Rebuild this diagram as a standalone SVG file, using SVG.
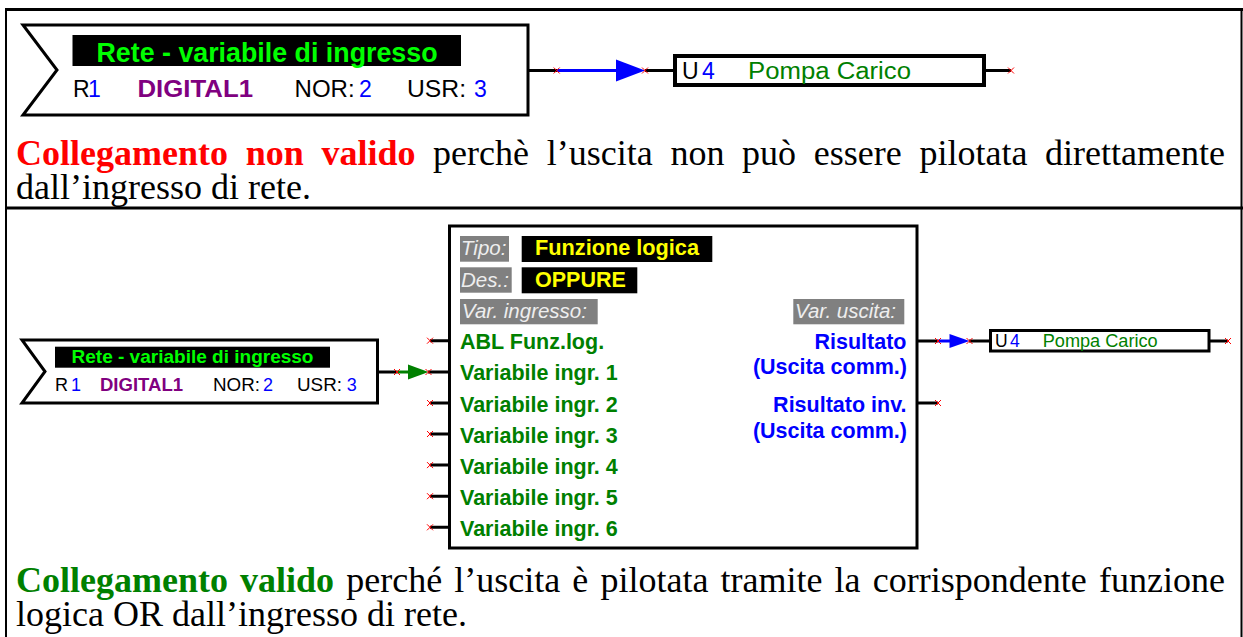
<svg xmlns="http://www.w3.org/2000/svg" xmlns:xlink="http://www.w3.org/1999/xlink" width="1243" height="637" viewBox="0 0 1243 637">
<style>
.ar{font-family:"Liberation Sans",Arial,sans-serif}
.tn{font-family:"Liberation Serif","Times New Roman",serif;font-size:36px;fill:#000}
.b{font-weight:bold}
.it{font-style:italic;fill:#eeeeee;font-size:20.5px}
.g{fill:#008000}
.lg{fill:#00ff00}
.bl{fill:#0000ff}
.pu{fill:#800080}
.ye{fill:#ffff00}
.red{fill:#ff0000}
.ln{stroke:#000;stroke-width:3;fill:none}
.box{fill:#fff;stroke:#000;stroke-width:3}
.gray{fill:#808080}
.fl{font-size:21.5px;font-weight:bold}
</style>
<defs>
<g id="xm"><path d="M-3,-3 L3,3 M-3,3 L3,-3" stroke="#ff0000" stroke-width="1" fill="none"/></g>
</defs>
<rect x="0" y="0" width="1243" height="637" fill="#fff"/>
<g id="frame" fill="none" stroke="#000">
<path d="M5,9.5 H1243" stroke-width="3"/>
<path d="M6,8 V637" stroke-width="2"/>
<path d="M1241.5,8 V637" stroke-width="2"/>
<path d="M5,208 H1243" stroke-width="3"/>
</g>

<g id="net-input-top">
<polygon points="23,25 528,25 528,115 23,115 57,70" class="box"/>
<rect x="72.5" y="35" width="388.5" height="31" fill="#000"/>
<text class="ar b lg" x="267" y="62" font-size="27" text-anchor="middle" textLength="341" lengthAdjust="spacingAndGlyphs">Rete - variabile di ingresso</text>
<text class="ar" y="97" font-size="23">
<tspan x="73">R</tspan><tspan x="88" class="bl">1</tspan>
<tspan x="137.5" class="b pu" textLength="115.5" lengthAdjust="spacingAndGlyphs">DIGITAL1</tspan>
<tspan x="294.6" textLength="60" lengthAdjust="spacingAndGlyphs">NOR:</tspan><tspan x="359" class="bl">2</tspan>
<tspan x="407" textLength="59" lengthAdjust="spacingAndGlyphs">USR:</tspan><tspan x="474" class="bl">3</tspan>
</text>
</g>

<g id="output-top">
<rect x="675" y="56" width="309" height="29" fill="#fff" stroke="#000" stroke-width="4"/>
<text class="ar" y="79" font-size="23"><tspan x="682">U</tspan><tspan x="702" class="bl">4</tspan><tspan x="748" class="g" textLength="163" lengthAdjust="spacingAndGlyphs">Pompa Carico</tspan></text>
<path d="M986,70.5 H1011" class="ln"/>
<use xlink:href="#xm" x="1011" y="70.5"/>
</g>

<g id="text-top">
<text class="tn" y="165">
<tspan x="16" class="b red">Collegamento</tspan><tspan x="245.7" class="b red">non</tspan><tspan x="321.4" class="b red">valido</tspan><tspan x="433.1">perchè</tspan><tspan x="546.7">l’uscita</tspan><tspan x="670.4">non</tspan><tspan x="742.1">può</tspan><tspan x="813.8">essere</tspan><tspan x="919.4">pilotata</tspan>
</text>
<text class="tn" x="1225" y="165" text-anchor="end">direttamente</text>
<text class="tn" x="16" y="199">dall’ingresso di rete.</text>
</g>

<g id="net-input-bottom">
<polygon points="22,340 377.5,340 377.5,403 22,403 45,371.5" class="box"/>
<rect x="55" y="346.7" width="275" height="21" fill="#000"/>
<text class="ar b lg" x="192.5" y="363.3" font-size="18.5" text-anchor="middle" textLength="242" lengthAdjust="spacingAndGlyphs">Rete - variabile di ingresso</text>
<text class="ar" y="391" font-size="18">
<tspan x="55">R</tspan><tspan x="71" class="bl">1</tspan>
<tspan x="100" class="b pu" textLength="83" lengthAdjust="spacingAndGlyphs">DIGITAL1</tspan>
<tspan x="213" textLength="47" lengthAdjust="spacingAndGlyphs">NOR:</tspan><tspan x="263" class="bl">2</tspan>
<tspan x="297" textLength="45" lengthAdjust="spacingAndGlyphs">USR:</tspan><tspan x="346.7" class="bl">3</tspan>
</text>
</g>

<g id="logic-function">
<rect x="449.5" y="226" width="467.5" height="322" class="box"/>
<rect x="460" y="236" width="49" height="25.7" class="gray"/>
<text class="ar it" x="461" y="255">Tipo:</text>
<rect x="521.7" y="236" width="190.6" height="26" fill="#000"/>
<text class="ar fl ye" x="535" y="255" textLength="164" lengthAdjust="spacingAndGlyphs">Funzione logica</text>
<rect x="460" y="267.3" width="51.7" height="25.4" class="gray"/>
<text class="ar it" x="461" y="286.5">Des.:</text>
<rect x="521.7" y="267.3" width="115.6" height="26" fill="#000"/>
<text class="ar fl ye" x="535" y="286.5">OPPURE</text>
<rect x="460" y="299" width="137.7" height="25.3" class="gray"/>
<text class="ar it" x="462" y="318">Var. ingresso:</text>
<rect x="793.3" y="299" width="111" height="25.3" class="gray"/>
<text class="ar it" x="795" y="318">Var. uscita:</text>
<g class="ar fl g">
<text x="460" y="349.3">ABL Funz.log.</text>
<text x="460" y="380.4">Variabile ingr. 1</text>
<text x="460" y="411.5">Variabile ingr. 2</text>
<text x="460" y="442.6">Variabile ingr. 3</text>
<text x="460" y="473.7">Variabile ingr. 4</text>
<text x="460" y="504.8">Variabile ingr. 5</text>
<text x="460" y="535.9">Variabile ingr. 6</text>
</g>
<g class="ar fl bl" text-anchor="end">
<text x="906.5" y="349.3">Risultato</text>
<text x="907" y="374">(Uscita comm.)</text>
<text x="906.5" y="412.3">Risultato inv.</text>
<text x="907" y="438.3">(Uscita comm.)</text>
</g>
<path d="M430,340.7 H449 M430,403 H449 M430,434 H449 M430,465.1 H449 M430,496.2 H449 M430,527.3 H449" class="ln"/>
<use xlink:href="#xm" x="430" y="340.7"/>
<use xlink:href="#xm" x="430" y="403"/>
<use xlink:href="#xm" x="430" y="434"/>
<use xlink:href="#xm" x="430" y="465.1"/>
<use xlink:href="#xm" x="430" y="496.2"/>
<use xlink:href="#xm" x="430" y="527.3"/>
<path d="M918,403 H938" class="ln"/>
<use xlink:href="#xm" x="938" y="403"/>
</g>

<g id="output-bottom">
<rect x="990.5" y="330.5" width="218.5" height="20.5" class="box"/>
<text class="ar" y="346.7" font-size="17.5"><tspan x="995">U</tspan><tspan x="1010" class="bl">4</tspan><tspan x="1042.7" class="g" textLength="115" lengthAdjust="spacingAndGlyphs">Pompa Carico</tspan></text>
<path d="M1210,341 H1228" class="ln"/>
<use xlink:href="#xm" x="1228" y="341"/>
</g>

<g id="connectors">
<path d="M529,70.5 H557 M645,70.5 H673" class="ln"/>
<path d="M557,70.5 H618" stroke="#0000ff" stroke-width="3"/>
<polygon points="616,59.5 645,70.5 616,81.5" fill="#0000ff"/>
<use xlink:href="#xm" x="556.7" y="70.5"/>
<use xlink:href="#xm" x="645" y="70.5"/>

<path d="M379,372 H397 M428,372 H449" class="ln"/>
<path d="M397,372 H410" stroke="#008000" stroke-width="3"/>
<polygon points="408,364.5 428.5,372 408,379.5" fill="#008000"/>
<use xlink:href="#xm" x="397" y="372"/>
<use xlink:href="#xm" x="428.5" y="372"/>

<path d="M918,341 H938 M969,341 H989" class="ln"/>
<path d="M938,341 H951" stroke="#0000ff" stroke-width="3"/>
<polygon points="949.5,334 969.5,341 949.5,348" fill="#0000ff"/>
<use xlink:href="#xm" x="938" y="341"/>
<use xlink:href="#xm" x="969.5" y="341"/>
</g>

<g id="text-bottom">
<text class="tn" y="592">
<tspan x="16" class="b g">Collegamento</tspan><tspan x="240.1" class="b g">valido</tspan><tspan x="346.2">perché</tspan><tspan x="454.2">l’uscita</tspan><tspan x="572.3">è</tspan><tspan x="600.4">pilotata</tspan><tspan x="720.5">tramite</tspan><tspan x="834.6">la</tspan><tspan x="872.7">corrispondente</tspan>
</text>
<text class="tn" x="1225" y="592" text-anchor="end">funzione</text>
<text class="tn" x="16" y="626">logica OR dall’ingresso di rete.</text>
</g>
</svg>
